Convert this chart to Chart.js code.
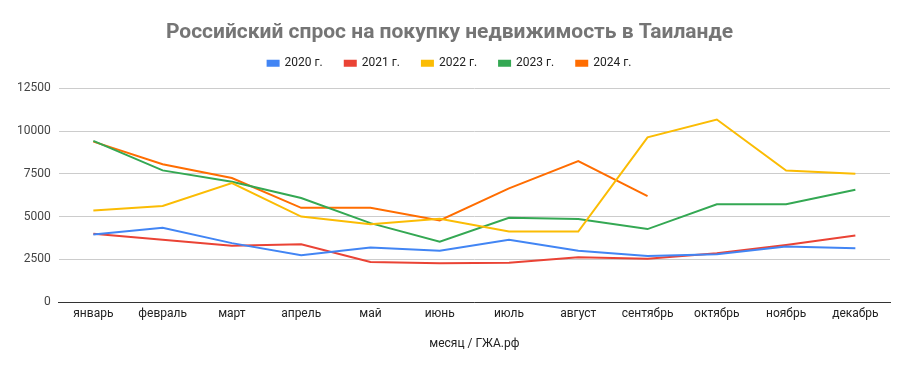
<!DOCTYPE html>
<html><head><meta charset="utf-8">
<script src="https://cdn.jsdelivr.net/npm/chart.js@4"></script>
<style>html,body{margin:0;padding:0;background:#fff}#wrap{width:909px;height:371px}</style>
</head><body><div id="wrap"><canvas id="c"></canvas></div>
<script>
const months = ["январь","февраль","март","апрель","май","июнь","июль","август","сентябрь","октябрь","ноябрь","декабрь"];
const y2020 = [3950,4350,3450,2750,3200,3000,3650,3000,2700,2800,3250,3150];
const y2021 = [4000,3650,3300,3380,2350,2270,2300,2620,2540,2860,3340,3900];
const y2022 = [5350,5620,6960,5000,4560,4870,4130,4130,9630,10670,7690,7500];
const y2023 = [9420,7700,7040,6090,4620,3540,4930,4860,4270,5720,5720,6570];
const y2024 = [9380,8060,7250,5510,5510,4780,6650,8240,6190,null,null,null];
const yTicks = [0,2500,5000,7500,10000,12500];

const legendExtra = {
  id: 'legendExtra',
  afterInit(chart) {
    const lg = chart.legend;
    const of = lg.fit.bind(lg);
    lg.fit = function() { of(); this.height += 9; };
  }
};

const mk = (label, data, color) => ({label, data, borderColor: color, backgroundColor: color, borderWidth: 2, pointRadius: 0, tension: 0, spanGaps: false});
new Chart(document.getElementById('c'), {
  type: 'line',
  data: { labels: months, datasets: [
    mk('2020 г.', y2020, '#4285F4'),
    mk('2021 г.', y2021, '#EA4335'),
    mk('2022 г.', y2022, '#FBBC04'),
    mk('2023 г.', y2023, '#34A853'),
    mk('2024 г.', y2024, '#FF6D01')
  ]},
  options: {
    responsive: true, maintainAspectRatio: false, animation: false,
    layout: { padding: { left: 9, right: 19, top: 8, bottom: 16 } },
    plugins: {
      title: { display: true, text: 'Российский спрос на покупку недвижимость в Таиланде', color: '#757575', font: { family: 'Roboto', size: 21, weight: 'bold' }, padding: { top: 12, bottom: -10 } },
      legend: { labels: { boxWidth: 11, boxHeight: 5, color: '#222', font: { family: 'Roboto', size: 12 }, padding: 22 } },
      tooltip: { enabled: false }
    },
    scales: {
      x: { offset: true, grid: { display: false, drawTicks: false }, border: { display: true, color: '#333' },
           ticks: { color: '#222', font: { family: 'Roboto', size: 12 }, padding: 5, maxRotation: 0, autoSkip: false },
           title: { display: true, text: 'месяц / ГЖА.рф', color: '#222', font: { family: 'Roboto', size: 12 }, padding: { top: 10 } } },
      y: { min: 0, max: 12500, grid: { color: '#cccccc', drawTicks: false }, border: { display: false },
           afterBuildTicks: s => { s.ticks = yTicks.map(v => ({value: v})); },
           ticks: { color: '#444', font: { family: 'Roboto', size: 12 }, padding: 8, callback: v => String(v) } }
    }
  },
  plugins: [legendExtra]
});
</script></body></html>
